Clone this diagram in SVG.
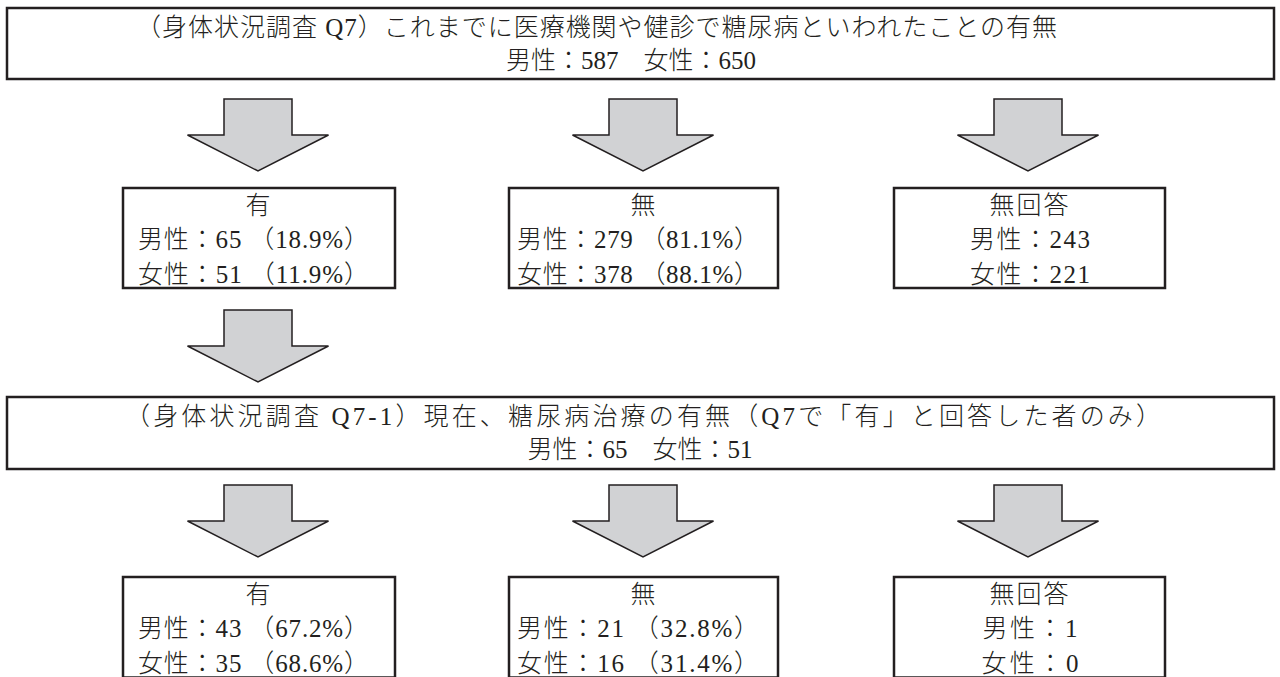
<svg xmlns="http://www.w3.org/2000/svg" width="1280" height="677" viewBox="0 0 1280 677">
<style>
  .box { fill: #ffffff; stroke: #231f20; stroke-width: 2.5; }
  .arrow { fill: #d1d2d4; stroke: #231f20; stroke-width: 1.5; stroke-linejoin: miter; }
  text { font-family: 'Liberation Serif', 'Noto Sans CJK JP', serif; font-size: 25px; fill: #231f20; font-weight: 300; }
  .c { text-anchor: middle; }
</style>
<defs>
  <path id="arr" class="arrow" d="M -34,0 H 34 V 36 H 70.5 L 0,72 L -70.5,36 H -34 Z"/>
</defs>
<rect width="1280" height="677" fill="#ffffff"/>

<g id="connectors">
  <use href="#arr" x="258" y="99"/>
  <use href="#arr" x="643" y="99"/>
  <use href="#arr" x="1028" y="99"/>
  <use href="#arr" x="258" y="310"/>
  <use href="#arr" x="258" y="485"/>
  <use href="#arr" x="643" y="485"/>
  <use href="#arr" x="1028" y="485"/>
</g>

<g id="header1">
  <rect class="box" x="7" y="8" width="1267" height="71"/>
  <text x="136" y="36" textLength="921" lengthAdjust="spacing">（身体状況調査 Q7）これまでに医療機関や健診で糖尿病といわれたことの有無</text>
  <text class="c" x="631" y="69">男性：587　女性：650</text>
</g>

<g id="q7-yes">
  <rect class="box" x="123" y="188" width="272" height="100"/>
  <text class="c" x="258" y="214">有</text>
  <text x="138" y="248" textLength="231" lengthAdjust="spacing">男性：65 （18.9%）</text>
  <text x="138" y="283" textLength="231" lengthAdjust="spacing">女性：51 （11.9%）</text>
</g>

<g id="q7-no">
  <rect class="box" x="509" y="188" width="269" height="100"/>
  <text class="c" x="643" y="214">無</text>
  <text x="517" y="248" textLength="242" lengthAdjust="spacing">男性：279 （81.1%）</text>
  <text x="517" y="283" textLength="242" lengthAdjust="spacing">女性：378 （88.1%）</text>
</g>

<g id="q7-na">
  <rect class="box" x="894" y="188" width="271" height="100"/>
  <text class="c" x="1029" y="214" textLength="79" lengthAdjust="spacing">無回答</text>
  <text class="c" x="1030" y="248" textLength="120" lengthAdjust="spacing">男性：243</text>
  <text class="c" x="1030" y="283" textLength="120" lengthAdjust="spacing">女性：221</text>
</g>

<g id="header2">
  <rect class="box" x="7" y="397" width="1267" height="72"/>
  <text x="125" y="425" textLength="1036" lengthAdjust="spacing">（身体状況調査 Q7-1）現在、糖尿病治療の有無（Q7で「有」と回答した者のみ）</text>
  <text class="c" x="640" y="458">男性：65　女性：51</text>
</g>

<g id="q71-yes">
  <rect class="box" x="123" y="577" width="272" height="100.5"/>
  <text class="c" x="258" y="603">有</text>
  <text x="138" y="637" textLength="231" lengthAdjust="spacing">男性：43 （67.2%）</text>
  <text x="138" y="672" textLength="231" lengthAdjust="spacing">女性：35 （68.6%）</text>
</g>

<g id="q71-no">
  <rect class="box" x="509" y="577" width="269" height="100.5"/>
  <text class="c" x="643" y="603">無</text>
  <text x="517" y="637" textLength="242" lengthAdjust="spacing">男性：21 （32.8%）</text>
  <text x="517" y="672" textLength="242" lengthAdjust="spacing">女性：16 （31.4%）</text>
</g>

<g id="q71-na">
  <rect class="box" x="894" y="577" width="271" height="100.5"/>
  <text class="c" x="1029" y="603" textLength="79" lengthAdjust="spacing">無回答</text>
  <text class="c" x="1030" y="637" textLength="95" lengthAdjust="spacing">男性：1</text>
  <text class="c" x="1030" y="672" textLength="97" lengthAdjust="spacing">女性：0</text>
</g>
</svg>
